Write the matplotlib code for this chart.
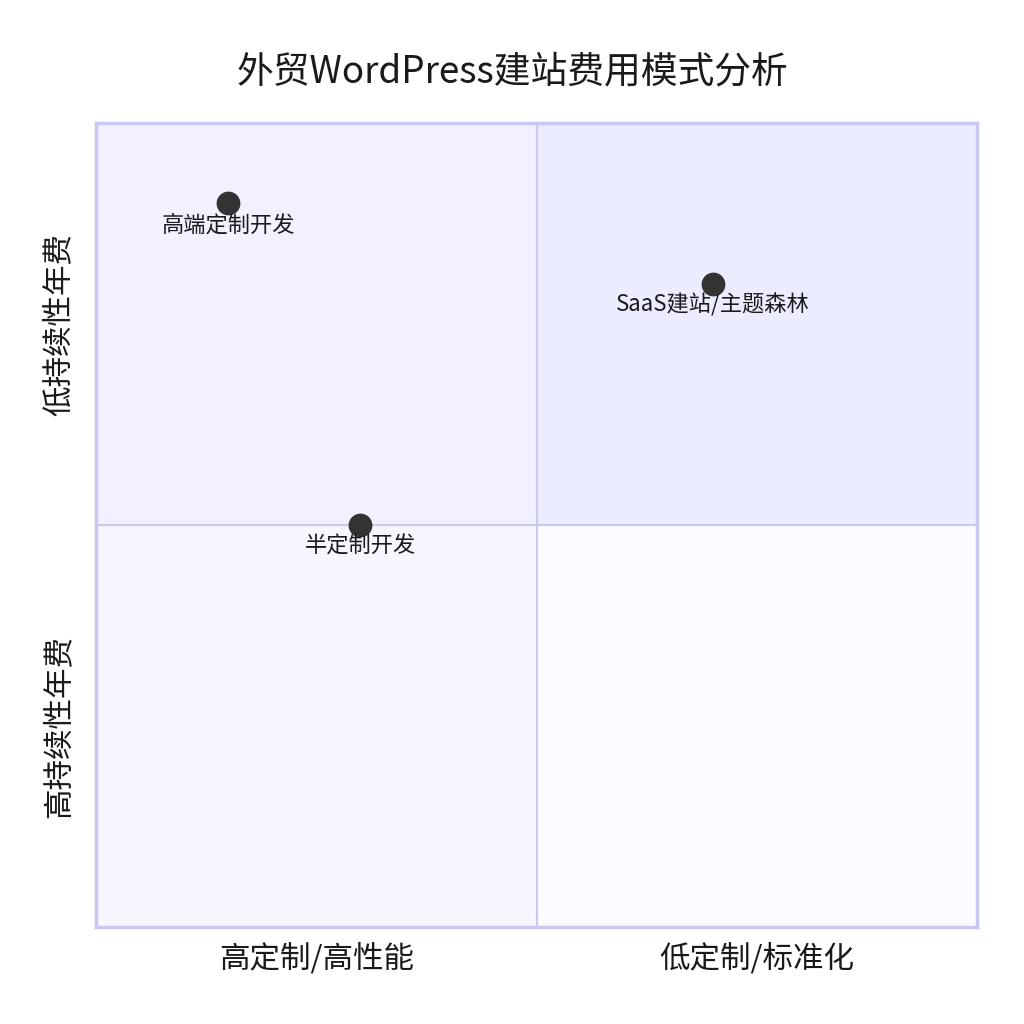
import matplotlib
matplotlib.use('Agg')
import matplotlib.pyplot as plt
from matplotlib.patches import Rectangle

plt.rcParams['font.family'] = ['Noto Sans CJK SC', 'DejaVu Sans']

title = '外贸WordPress建站费用模式分析'
x_labels = ['高定制/高性能', '低定制/标准化']
y_labels = ['高持续性年费', '低持续性年费']
names = ['高端定制开发', 'SaaS建站/主题森林', '半定制开发']
xs = [0.15, 0.70, 0.30]
ys = [0.90, 0.80, 0.50]

# quadrant fills: (x0, y0) -> colour
fills = {(0.5, 0.5): '#ececff', (0, 0.5): '#f1f1ff', (0, 0): '#f6f6ff', (0.5, 0): '#fbfbff'}
border = '#c8c8f2'

fig = plt.figure(figsize=(10.24, 10.24), dpi=100)
ax = fig.add_axes([96/1024, 97/1024, 881/1024, 804/1024])
ax.set_xlim(0, 1)
ax.set_ylim(0, 1)

for (x0, y0), c in fills.items():
    ax.add_patch(Rectangle((x0, y0), 0.5, 0.5, facecolor=c, edgecolor='none', zorder=0))
ax.axvline(0.5, color=border, lw=1.5, zorder=1)
ax.axhline(0.5, color=border, lw=1.5, zorder=1)
for s in ax.spines.values():
    s.set_color(border)
    s.set_linewidth(2.5)
ax.set_xticks([])
ax.set_yticks([])

ax.scatter(xs, ys, s=260, color='#333333', zorder=3)
for n, x, y in zip(names, xs, ys):
    ax.annotate(n, (x, y), xytext=(0, -7), textcoords='offset points',
                ha='center', va='top', fontsize=16, color='#1a1a1a', zorder=4)

for i, t in enumerate(x_labels):
    ax.text(0.25 + 0.5 * i, -0.039, t, transform=ax.transAxes, ha='center', va='center',
            fontsize=22, color='#1a1a1a')
for i, t in enumerate(y_labels):
    ax.text(-0.042, 0.25 + 0.5 * i, t, transform=ax.transAxes, ha='center', va='center',
            rotation=90, fontsize=22, color='#1a1a1a')

fig.text(0.5, 1 - 72/1024, title, ha='center', va='center', fontsize=26.5, color='#1a1a1a')

fig.savefig('out.png', dpi=100, facecolor='white')
